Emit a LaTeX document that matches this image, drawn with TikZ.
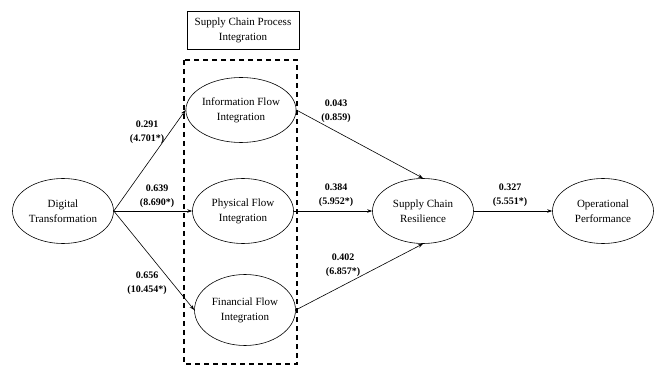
\documentclass[tikz,border=0pt]{standalone}
\usepackage{fontspec}
\setmainfont{Liberation Serif}
\usetikzlibrary{arrows.meta,shapes.geometric}

\begin{document}
\begin{tikzpicture}
      [
        x = 1pt, y = -1pt,
        construct/.style = {draw, ellipse, line width=0.6pt, minimum width=101pt,
            minimum height=65pt, inner sep=0pt, align=center,
            font=\fontsize{11}{15}\selectfont},
        path/.style = {draw, line width=0.6pt, -{Stealth[length=5pt,width=3.5pt]}},
        coef/.style = {align=center, font=\fontsize{10}{14}\selectfont\bfseries},
      ]
      \useasboundingbox (0,0) rectangle (654,366);

      % group of the three process constructs
      \node[draw, line width=0.6pt, minimum width=112pt, minimum height=38pt,
            align=center, font=\fontsize{11}{15}\selectfont] (group) at (243,30)
            {Supply Chain Process\\Integration};
      \draw[line width=1.3pt, dash pattern=on 5pt off 4pt] (184,60) rectangle (297,364);

      \node[construct] (dt) at (63,211) {Digital\\Transformation};
      \node[construct] (info) at (241,110) {Information Flow\\Integration};
      \node[construct] (phys) at (243,211) {Physical Flow\\Integration};
      \node[construct, minimum height=71pt] (fin) at (245,310) {Financial Flow\\Integration};
      \node[construct] (scr) at (423,211) {Supply Chain\\Resilience};
      \node[construct] (op) at (603,211) {Operational\\Performance};

      \draw[path] (dt.east) -- (info.west);
      \draw[path] (dt.east) -- (phys.west);
      \draw[path] (dt.east) -- (fin.west);
      \draw[path] (info.east) -- (scr.north);
      \draw[path] (phys.east) -- (scr.west);
      \draw[path] (fin.east) -- (scr.south);
      \draw[path] (scr.east) -- (op.west);

      \node[coef] (c-info) at (147,132) {0.291\\(4.701*)};
      \node[coef] (c-phys) at (157,196) {0.639\\(8.690*)};
      \node[coef] (c-fin) at (147,283) {0.656\\(10.454*)};
      \node[coef] (c-info-scr) at (336,111) {0.043\\(0.859)};
      \node[coef] (c-phys-scr) at (336,195) {0.384\\(5.952*)};
      \node[coef] (c-fin-scr) at (343,265) {0.402\\(6.857*)};
      \node[coef] (c-scr-op) at (510,195) {0.327\\(5.551*)};

    \end{tikzpicture}
\end{document}
